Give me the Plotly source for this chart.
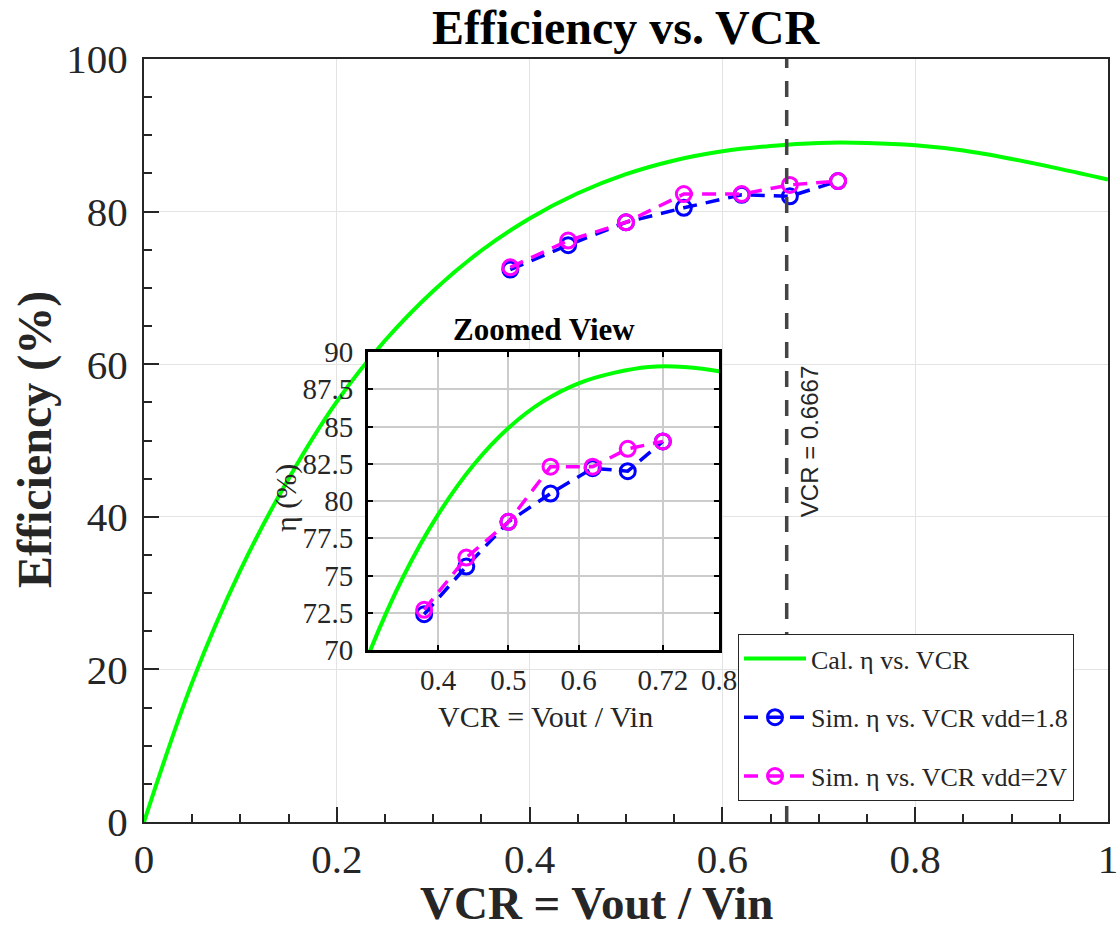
import plotly.graph_objects as go

# Calculated efficiency curve (VCR, %)
vcr_cal = [0.0, 0.05, 0.10, 0.15, 0.20, 0.25, 0.30, 0.35, 0.40, 0.45, 0.50,
           0.55, 0.60, 0.65, 0.70, 0.75, 0.80, 0.85, 0.90, 0.95, 1.0]
eta_cal = [0.0, 18.3, 33.0, 45.0, 55.1, 63.1, 69.6, 74.9, 79.1, 82.4, 84.9,
           86.7, 87.9, 88.6, 89.0, 89.0, 88.7, 88.0, 86.9, 85.6, 84.2]

# Simulated efficiency points
vcr_sim = [0.38, 0.44, 0.50, 0.56, 0.62, 0.67, 0.72]
eta_vdd18 = [72.4, 75.6, 78.6, 80.5, 82.2, 82.0, 84.0]
eta_vdd2 = [72.7, 76.2, 78.6, 82.3, 82.3, 83.5, 84.0]

vcr_marker = 0.6667

main_xticks = [0, 0.2, 0.4, 0.6, 0.8, 1.0]
main_yticks = [0, 20, 40, 60, 80, 100]
zoom_xticks = [0.4, 0.5, 0.6, 0.72, 0.8]
zoom_xlabels = ["0.4", "0.5", "0.6", "0.72", "0.8"]
zoom_yticks = [70, 72.5, 75, 77.5, 80, 82.5, 85, 87.5, 90]
zoom_ylabels = ["70", "72.5", "75", "77.5", "80", "82.5", "85", "87.5", "90"]

SERIF = "Liberation Serif"
DARK = "#262626"
GREEN = "#00ff00"
BLUE = "#0000ff"
MAGENTA = "#ff00ff"

fig = go.Figure()


def sim_trace(y, color, name, xa, ya, show):
    return go.Scatter(x=vcr_sim, y=y, mode="lines+markers",
                      line=dict(color=color, width=3.5, dash="14px,9px"),
                      marker=dict(symbol="circle-open", size=15, color=color,
                                  line=dict(width=3, color=color)),
                      name=name, legendgroup=name, showlegend=show, xaxis=xa, yaxis=ya)


# main axes
fig.add_trace(go.Scatter(x=vcr_cal, y=eta_cal, mode="lines",
                         line=dict(color=GREEN, width=4, shape="spline", smoothing=1),
                         name="Cal. η vs. VCR", legendgroup="cal", xaxis="x", yaxis="y"))
fig.add_trace(sim_trace(eta_vdd18, BLUE, "Sim. η vs. VCR vdd=1.8", "x", "y", True))
fig.add_trace(sim_trace(eta_vdd2, MAGENTA, "Sim. η vs. VCR vdd=2V", "x", "y", True))

# zoomed inset axes
fig.add_trace(go.Scatter(x=vcr_cal, y=eta_cal, mode="lines",
                         line=dict(color=GREEN, width=4, shape="spline", smoothing=1),
                         showlegend=False, xaxis="x2", yaxis="y2"))
fig.add_trace(sim_trace(eta_vdd18, BLUE, "vdd18_zoom", "x2", "y2", False))
fig.add_trace(sim_trace(eta_vdd2, MAGENTA, "vdd2_zoom", "x2", "y2", False))

W, H = 1120, 926
L, R, T, B = 144, 12, 59, 104
pw, ph = W - L - R, H - T - B


def px_x(p):
    return (p - L) / pw


def px_y(p):
    return (H - B - p) / ph


inset_x = [px_x(368), px_x(719)]
inset_y = [px_y(650), px_y(352)]

fig.update_layout(
    width=W, height=H,
    margin=dict(l=L, r=R, t=T, b=B, autoexpand=False),
    paper_bgcolor="white", plot_bgcolor="white",
    font=dict(family=SERIF, color=DARK),
    showlegend=True,
    legend=dict(x=px_x(738), y=px_y(634), xanchor="left", yanchor="top",
                bgcolor="white", bordercolor=DARK, borderwidth=1,
                font=dict(family=SERIF, size=26, color=DARK),
                traceorder="grouped", tracegroupgap=22, itemwidth=62),
    xaxis=dict(range=[0, 1], tickvals=main_xticks, ticks="inside", ticklen=15, tickwidth=1.5, tickcolor=DARK,
               showline=True, linecolor=DARK, linewidth=2, mirror=True,
               showgrid=True, gridcolor="#e3e3e3", gridwidth=1, zeroline=False,
               tickfont=dict(family=SERIF, size=41, color=DARK), ticklabelstandoff=0,
               minor=dict(dtick=0.05, ticks="inside", ticklen=8, tickcolor=DARK, showgrid=False),
               anchor="y", automargin=False),
    yaxis=dict(range=[0, 100], tickvals=main_yticks, ticks="inside", ticklen=15, tickwidth=1.5, tickcolor=DARK,
               showline=True, linecolor=DARK, linewidth=2, mirror=True,
               showgrid=True, gridcolor="#e3e3e3", gridwidth=1, zeroline=False,
               tickfont=dict(family=SERIF, size=41, color=DARK), ticklabelstandoff=6,
               minor=dict(dtick=5, ticks="inside", ticklen=8, tickcolor=DARK, showgrid=False),
               anchor="x", automargin=False),
    xaxis2=dict(domain=inset_x, range=[0.3, 0.8], tickvals=zoom_xticks, ticktext=zoom_xlabels,
                ticks="inside", ticklen=5, tickwidth=2, tickcolor="black",
                showline=True, linecolor="black", linewidth=3, mirror="ticks",
                showgrid=True, gridcolor="#cccccc", gridwidth=2, zeroline=False,
                tickfont=dict(family=SERIF, size=29, color=DARK), ticklabelstandoff=2,
                anchor="y2", automargin=False),
    yaxis2=dict(domain=inset_y, range=[70, 90], tickvals=zoom_yticks, ticktext=zoom_ylabels,
                ticks="inside", ticklen=5, tickwidth=2, tickcolor="black",
                showline=True, linecolor="black", linewidth=3, mirror="ticks",
                showgrid=True, gridcolor="#cccccc", gridwidth=2, zeroline=False,
                tickfont=dict(family=SERIF, size=29, color=DARK), ticklabelstandoff=6,
                anchor="x2", automargin=False),
    shapes=[
        # white plotting area of the inset, under its grid
        dict(type="rect", xref="x2", yref="y2", x0=0.3, x1=0.8, y0=70, y1=90,
             fillcolor="white", line=dict(width=0), layer="below"),
        # reference line at VCR = 2/3
        dict(type="line", xref="x", yref="y domain", x0=vcr_marker, x1=vcr_marker, y0=0, y1=1,
             line=dict(color="#444444", width=3.5, dash="16px,13px"), layer="above"),
    ],
    annotations=[
        dict(text="<b>Efficiency vs. VCR</b>", xref="paper", yref="paper", x=px_x(626), y=px_y(28),
             xanchor="center", yanchor="middle", showarrow=False,
             font=dict(family=SERIF, size=48, color="black")),
        dict(text="<b>VCR = Vout / Vin</b>", xref="paper", yref="paper", x=px_x(596), y=px_y(903),
             xanchor="center", yanchor="middle", showarrow=False,
             font=dict(family=SERIF, size=47, color=DARK)),
        dict(text="<b>Efficiency (%)</b>", xref="paper", yref="paper", x=px_x(35), y=px_y(440),
             xanchor="center", yanchor="middle", textangle=-90, showarrow=False,
             font=dict(family=SERIF, size=48, color=DARK)),
        dict(text="<b>Zoomed View</b>", xref="paper", yref="paper", x=px_x(544), y=px_y(329),
             xanchor="center", yanchor="middle", showarrow=False,
             font=dict(family=SERIF, size=31, color="black")),
        dict(text="VCR = Vout / Vin", xref="paper", yref="paper", x=px_x(545), y=px_y(716),
             xanchor="center", yanchor="middle", showarrow=False,
             font=dict(family=SERIF, size=30, color=DARK)),
        dict(text="η (%)", xref="paper", yref="paper", x=px_x(286), y=px_y(498),
             xanchor="center", yanchor="middle", textangle=-90, showarrow=False,
             font=dict(family=SERIF, size=30, color=DARK)),
        dict(text="VCR = 0.6667", xref="x", yref="y", x=0.690, y=49.8,
             xanchor="center", yanchor="middle", textangle=-90, showarrow=False,
             font=dict(family="Liberation Sans", size=24, color=DARK)),
    ],
)

fig.write_html("out.html")
